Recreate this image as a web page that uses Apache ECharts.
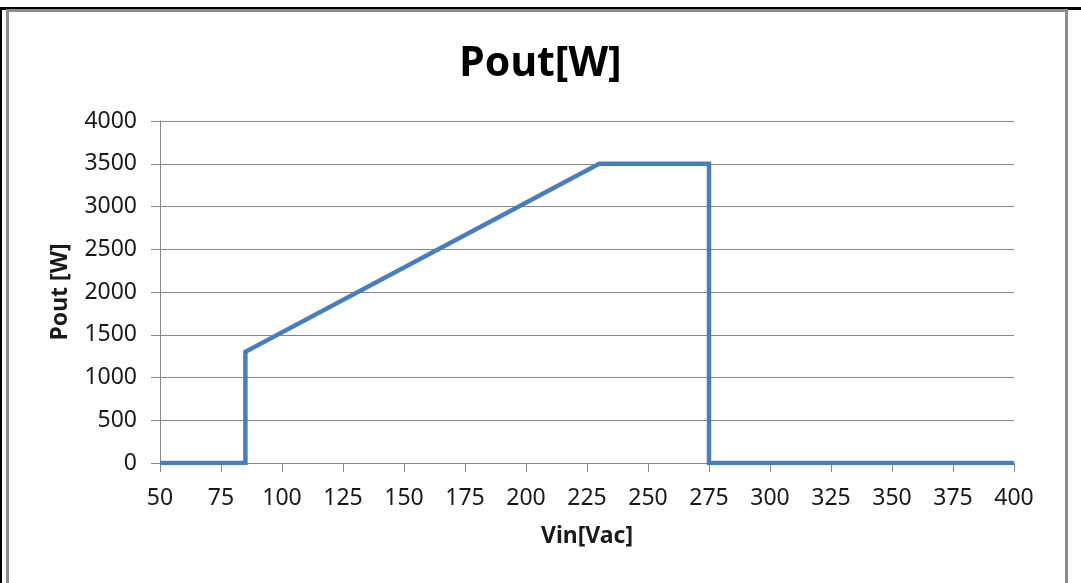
<!DOCTYPE html>
<html>
<head>
<meta charset="utf-8">
<script src="https://cdn.jsdelivr.net/npm/echarts@6/dist/echarts.min.js"></script>
<style>
  html, body { margin: 0; padding: 0; background: #fff; }
  #wrap { position: relative; width: 1081px; height: 583px; overflow: hidden; background: #fff; }
  #blackTop { position: absolute; left: 0; top: 7px; width: 1081px; height: 3px; background: #000; }
  #blackLeft { position: absolute; left: 0; top: 7px; width: 2px; height: 600px; background: #000; }
  #frame { position: absolute; left: 6px; top: 9px; width: 1056px; height: 600px; border: 3px solid #8c8c8c; border-bottom: none; background: #fff; }
  #chart { position: absolute; left: 0; top: 0; width: 1081px; height: 583px; }
</style>
</head>
<body>
<div id="wrap">
  <div id="blackTop"></div>
  <div id="blackLeft"></div>
  <div id="frame"></div>
  <div id="chart"></div>
</div>
<script>
// Data
const chartTitle = "Pout[W]";
const xAxisName = "Vin[Vac]";
const yAxisName = "Pout [W]";
const vinValues = [50, 85, 85, 230, 275, 275, 400];
const poutValues = [0, 0, 1300, 3500, 3500, 0, 0];

const seriesData = vinValues.map((v, i) => [v, poutValues[i]]);

const chart = echarts.init(document.getElementById('chart'), null, { renderer: 'canvas' });
const font = "'Noto Sans', 'Open Sans', sans-serif";
chart.setOption({
  backgroundColor: 'transparent',
  animation: false,
  title: {
    text: chartTitle,
    left: 'center',
    top: 39,
    textStyle: { fontFamily: font, fontWeight: 'bold', fontSize: 41, color: '#000' }
  },
  grid: { left: 160, right: 67, top: 121, bottom: 120, containLabel: false },
  xAxis: {
    type: 'value',
    min: 50, max: 400, interval: 25,
    name: xAxisName,
    nameLocation: 'middle',
    nameGap: 62,
    nameTextStyle: { fontFamily: font, fontWeight: 'bold', fontSize: 23, color: '#1a1a1a' },
    axisLine: { show: true, onZero: false, lineStyle: { color: '#868686', width: 1 } },
    axisTick: { show: true, length: 9, lineStyle: { color: '#868686' } },
    axisLabel: { fontFamily: font, fontSize: 23, color: '#1a1a1a', margin: 24,
                 formatter: v => String(v) },
    splitLine: { show: false }
  },
  yAxis: {
    type: 'value',
    min: 0, max: 4000, interval: 500,
    name: yAxisName,
    nameLocation: 'middle',
    nameGap: 88,
    nameRotate: 90,
    nameTextStyle: { fontFamily: font, fontWeight: 'bold', fontSize: 23, color: '#1a1a1a' },
    axisLine: { show: true, lineStyle: { color: '#868686', width: 1 } },
    axisTick: { show: true, length: 9, lineStyle: { color: '#868686' } },
    axisLabel: { fontFamily: font, fontSize: 23, color: '#1a1a1a', margin: 23,
                 formatter: v => String(v) },
    splitLine: { show: true, lineStyle: { color: '#868686', width: 1 } }
  },
  series: [{
    type: 'line',
    data: seriesData,
    showSymbol: false,
    symbol: 'none',
    lineStyle: { color: '#4a7ebb', width: 4.5, join: 'miter', cap: 'butt' },
    z: 5
  }]
});
</script>
</body>
</html>
